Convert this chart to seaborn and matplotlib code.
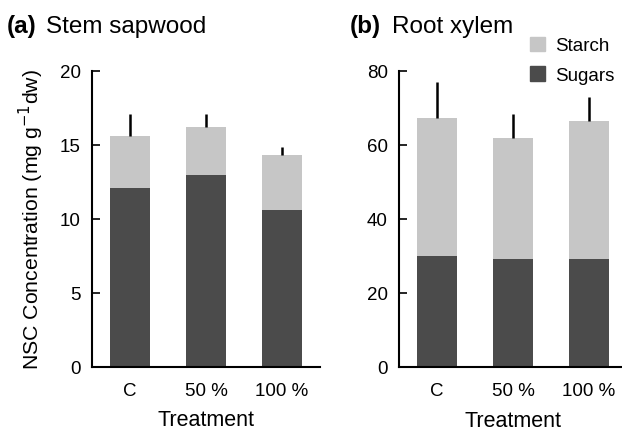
import numpy as np
import pandas as pd
import seaborn as sns
from matplotlib import pyplot as plt
from matplotlib.patches import Patch

treatments = ["C", "50 %", "100 %"]

stem_sugars = [12.1, 13.0, 10.6]
stem_starch = [3.5, 3.2, 3.7]
stem_se = [1.5, 0.9, 0.55]

root_sugars = [30.1, 29.2, 29.1]
root_starch = [37.2, 32.7, 37.5]
root_se = [9.6, 6.4, 6.5]

dark = "#4b4b4b"
light = "#c6c6c6"

sns.set_style("ticks")
plt.rcParams["font.family"] = ["Liberation Sans", "DejaVu Sans"]
plt.rcParams["text.color"] = "black"
plt.rcParams["axes.labelcolor"] = "black"
plt.rcParams["xtick.color"] = "black"
plt.rcParams["ytick.color"] = "black"
plt.rcParams["axes.edgecolor"] = "black"
plt.rcParams["ytick.direction"] = "in"

fig = plt.figure(figsize=(6.22, 4.31), dpi=100)
ax_a = fig.add_axes([92 / 622, 63 / 431, 228 / 622, 296 / 431])
ax_b = fig.add_axes([399 / 622, 63 / 431, 228 / 622, 296 / 431])


def stacked(ax, sugars, starch, se, ymax, step, xpad):
    df = pd.DataFrame({"Treatment": treatments,
                       "Sugars": sugars,
                       "Starch": starch})
    df["Total"] = df["Sugars"] + df["Starch"]
    sns.barplot(data=df, x="Treatment", y="Total", color=light, saturation=1,
                width=0.53, errorbar=None, linewidth=0, ax=ax)
    sns.barplot(data=df, x="Treatment", y="Sugars", color=dark, saturation=1,
                width=0.53, errorbar=None, linewidth=0, ax=ax)
    # upper half of the error bar only
    ax.vlines(np.arange(len(df)), df["Total"], df["Total"] + np.array(se),
              color="black", lw=1.8, zorder=1)
    ax.set_xlim(-0.5, 2.5)
    ax.set_ylim(0, ymax)
    ax.set_yticks(np.arange(0, ymax + 1, step))
    sns.despine(ax=ax)
    ax.spines["left"].set_linewidth(1.5)
    ax.spines["bottom"].set_linewidth(1.5)
    ax.tick_params(axis="y", direction="in", length=6, width=1.2,
                   pad=8, labelsize=13.5)
    ax.tick_params(axis="x", length=0, pad=11, labelsize=13.5)
    ax.set_xlabel("Treatment", fontsize=15.5, labelpad=xpad)
    ax.set_ylabel("")


stacked(ax_a, stem_sugars, stem_starch, stem_se, 20, 5, 7)
stacked(ax_b, root_sugars, root_starch, root_se, 80, 20, 7.5)

ax_a.set_ylabel("NSC Concentration (mg g$^{-1}$dw)", fontsize=15.3, labelpad=10)

fig.text(7 / 622, 1 - 33 / 431, "(a)", fontsize=17.5, fontweight="bold",
         va="baseline")
fig.text(46 / 622, 1 - 33 / 431, "Stem sapwood", fontsize=17.5, va="baseline")
fig.text(350 / 622, 1 - 33 / 431, "(b)", fontsize=17.5, fontweight="bold",
         va="baseline")
fig.text(392 / 622, 1 - 33 / 431, "Root xylem", fontsize=17.5, va="baseline")

handles = [Patch(color=light, label="Starch"), Patch(color=dark, label="Sugars")]
fig.legend(handles=handles, loc="upper left",
           bbox_to_anchor=(522 / 622, 1 - 30 / 431), frameon=False,
           fontsize=13.5, handlelength=0.85, handleheight=0.85,
           handletextpad=0.5, labelspacing=0.6, borderaxespad=0)

fig.savefig("out.png", dpi=100)
